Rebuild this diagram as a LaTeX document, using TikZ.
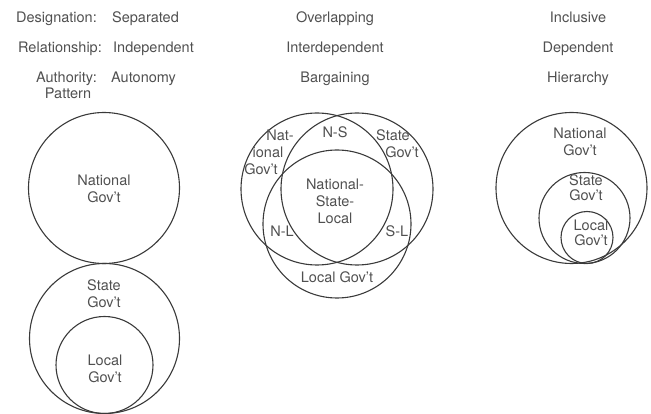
\documentclass[tikz,border=0pt]{standalone}
\usepackage{fontspec}
\setmainfont{TeX Gyre Heros}
\usetikzlibrary{positioning}
\definecolor{inkline}{HTML}{3A3A3A}
\definecolor{inktext}{HTML}{505050}

\begin{document}
\begin{tikzpicture}[x=1pt, y=-1pt, font=\fontsize{14.5}{17}\selectfont,
    gov/.style={draw=inkline, circle, line width=1.1pt, inner sep=0pt},
    lbl/.style={text=inktext, inner sep=0pt, align=center}]
    \useasboundingbox (0,0) rectangle (651,414);

    % Headings
    \node [lbl, anchor=base east] (desig) at (97,22.5) {Designation:};
    \node [lbl, base right=15pt of desig] (sepd) {Separated};
    \node [lbl, anchor=base east] (relat) at (102,52.5) {Relationship:};
    \node [lbl, base right=11pt of relat] (indep) {Independent};
    \node [lbl, anchor=base east] (autho) at (97,83) {Authority:};
    \node [lbl, base right=14pt of autho] (auton) {Autonomy};
    \node [lbl, anchor=base] (pattn) at (68,99) {Pattern};

    \node [lbl, anchor=base] (overl) at (335,22.5) {Overlapping};
    \node [lbl, anchor=base] (interd) at (335,52.5) {Interdependent};
    \node [lbl, anchor=base] (bargn) at (335,83) {Bargaining};

    \node [lbl, anchor=base] (inclu) at (578,22.5) {Inclusive};
    \node [lbl, anchor=base] (depen) at (578,52.5) {Dependent};
    \node [lbl, anchor=base] (hiera) at (578,83) {Hierarchy};

    % Separated
    \node [gov, minimum size=151pt] (natA) at (104,188) {};
    \node [gov, minimum size=150pt] (staA) at (104.5,338.5) {};
    \node [gov, minimum size=97pt] (locA) at (104.5,365) {};
    \node [lbl] (natAl) at (104,189) {National\\Gov't};
    \node [lbl] (staAl) at (104,294) {State\\Gov't};
    \node [lbl] (locAl) at (105,369) {Local\\Gov't};

    % Overlapping
    \node [gov, minimum size=152pt] (natB) at (317,189) {};
    \node [gov, minimum size=152pt] (staB) at (357,189) {};
    \node [gov, minimum size=148pt] (locB) at (337,224) {};
    \node [lbl, anchor=base] (natB1) at (280,141) {Nat-};
    \node [lbl, anchor=base] (natB2) at (268,158) {ional};
    \node [lbl, anchor=base] (natB3) at (261,175) {Gov't};
    \node [lbl, anchor=base] (staB1) at (393,141) {State};
    \node [lbl, anchor=base] (staB2) at (402,158) {Gov't};
    \node [lbl, anchor=base] (ns) at (335,138) {N-S};
    \node [lbl] (nsl) at (335,201) {National-\\State-\\Local};
    \node [lbl, anchor=base] (nl) at (282,237) {N-L};
    \node [lbl, anchor=base] (sl) at (397,237) {S-L};
    \node [lbl, anchor=base] (locBl) at (337,283) {Local Gov't};

    % Inclusive
    \node [gov, minimum size=151pt] (natC) at (571.5,188) {};
    \node [gov, minimum size=91pt] (staC) at (584.5,218) {};
    \node [gov, minimum size=52pt] (locC) at (587,237.5) {};
    \node [lbl] (natCl) at (580,142) {National\\Gov't};
    \node [lbl] (staCl) at (586,188) {State\\[-2pt]Gov't};
    \node [lbl] (locCl) at (591,233) {Local\\[-2pt]Gov't};
\end{tikzpicture}
\end{document}
